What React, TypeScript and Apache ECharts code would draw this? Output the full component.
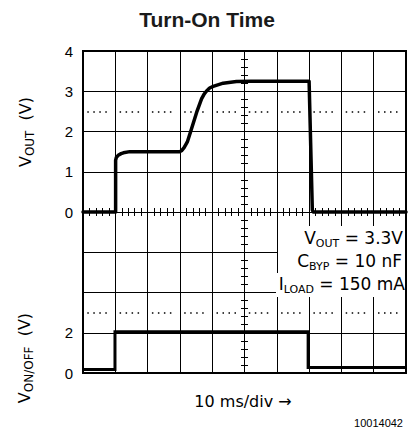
import React, { useEffect, useRef } from 'react';
import * as echarts from 'echarts';

// time axis: 10 ms/div, 10 divisions
const timeTicks = [0, 10, 20, 30, 40, 50, 60, 70, 80, 90, 100];
const voutTicks = [0, 1, 2, 3, 4];
const vonTicks = [0, 2];

// V_OUT trace (ms, V)
const voutTime = [0, 10.1, 10.1, 10.3, 10.9, 11.8, 12.5, 14.5, 20, 25, 30.0, 30.6, 31.3, 32.3, 33.6, 35.2, 36.7, 37.5, 38.2, 39.2, 40.3, 43.4, 47.5, 52, 60, 70.0, 71.0, 71.3, 80, 90, 100];
const voutValues = [0, 0, 1.28, 1.35, 1.41, 1.45, 1.47, 1.5, 1.5, 1.5, 1.5, 1.53, 1.6, 1.74, 2.07, 2.48, 2.81, 2.93, 3.0, 3.08, 3.12, 3.2, 3.24, 3.25, 3.25, 3.25, 0.05, 0, 0, 0, 0];

// V_ON/OFF trace (ms, V)
const vonTime = [0, 9.9, 9.9, 69.7, 69.7, 100];
const vonValues = [0.18, 0.18, 2.05, 2.05, 0.27, 0.27];

const voutRef = 2.5;
const vonRef = 3;

const FONT = 'Liberation Sans, Arial, sans-serif';
const NOTE_FONT = 'DejaVu Sans, sans-serif';

export default function App() {
  const ref = useRef<HTMLDivElement>(null);
  useEffect(() => {
    if (!ref.current) return;
    const chart = echarts.init(ref.current, null, { renderer: 'svg' });
    const L = 83, R = 406, T = 51, MID = 212, B = 373;
    const W = R - L;
    const black = '#000';
    const dotted = {
      color: black,
      width: 1.5,
      type: [1.5, 4.5, 1.5, 4.5, 1.5, 4.5, 1.5, 12.8],
      dashOffset: 27.8,
    };
    const xBase = (grid: number, pos: string) => ({
      gridIndex: grid,
      type: 'value',
      min: timeTicks[0],
      max: timeTicks[timeTicks.length - 1],
      interval: timeTicks[1] - timeTicks[0],
      position: pos,
      axisLine: { show: true, onZero: false, lineStyle: { color: black, width: 1 } },
      axisTick: { show: false },
      minorTick: { show: true, splitNumber: 5, length: 4, lineStyle: { color: black, width: 1 } },
      axisLabel: { show: false },
      splitLine: { show: true, lineStyle: { color: black, width: 1 } },
    });
    const yMain = (grid: number, ticks: number[], div: number, fmt: (v: number) => string) => ({
      gridIndex: grid,
      type: 'value',
      min: 0,
      max: ticks[0] + div * 4,
      interval: div,
      position: 'left',
      axisLine: { show: false, onZero: false },
      axisTick: { show: false },
      axisLabel: { color: black, fontSize: 15, fontFamily: FONT, margin: 10, formatter: fmt },
      splitLine: { show: true, lineStyle: { color: black, width: 1 } },
    });
    const yCenter = (grid: number, div: number, inside: boolean) => ({
      gridIndex: grid,
      type: 'value',
      min: 0,
      max: div * 4,
      interval: div,
      position: 'left',
      offset: -(W / 2),
      axisLine: { show: false, onZero: false },
      axisTick: { show: false, inside },
      minorTick: { show: true, splitNumber: 5, length: 3.5, lineStyle: { color: black, width: 1 } },
      axisLabel: { show: false },
      splitLine: { show: false },
    });
    const rich = {
      m: { fontSize: 17, fontFamily: NOTE_FONT, lineHeight: 22, color: black },
      s: { fontSize: 11, fontFamily: NOTE_FONT, lineHeight: 11, verticalAlign: 'bottom', color: black },
    };
    const axRich = {
      m: { fontSize: 16, fontFamily: NOTE_FONT, lineHeight: 22, color: black },
      s: { fontSize: 12, fontFamily: NOTE_FONT, lineHeight: 12, verticalAlign: 'bottom', color: black },
    };
    const option: any = {
      animation: false,
      backgroundColor: '#fff',
      grid: [
        { left: L, top: T, width: W, height: MID - T, show: false },
        { left: L, top: MID, width: W, height: B - MID, show: false },
      ],
      xAxis: [xBase(0, 'bottom'), xBase(1, 'top')],
      yAxis: [
        yMain(0, voutTicks, voutTicks[1] - voutTicks[0], (v: number) => String(v)),
        yCenter(0, 1, false),
        yCenter(0, 1, true),
        yMain(1, vonTicks, vonTicks[1] - vonTicks[0], (v: number) => (vonTicks.includes(v) ? String(v) : '')),
        yCenter(1, 2, false),
        yCenter(1, 2, true),
      ],
      series: [
        {
          type: 'line',
          xAxisIndex: 0,
          yAxisIndex: 0,
          data: voutTime.map((t, i) => [t, voutValues[i]]),
          showSymbol: false,
          clip: false,
          lineStyle: { color: black, width: 3.5, join: 'round', cap: 'round' },
          z: 5,
          markLine: {
            silent: true,
            symbol: 'none',
            label: { show: false },
            lineStyle: dotted,
            data: [{ yAxis: voutRef }],
          },
        },
        {
          type: 'line',
          xAxisIndex: 1,
          yAxisIndex: 3,
          data: vonTime.map((t, i) => [t, vonValues[i]]),
          showSymbol: false,
          clip: false,
          lineStyle: { color: black, width: 3, join: 'miter' },
          z: 5,
          markLine: {
            silent: true,
            symbol: 'none',
            label: { show: false },
            lineStyle: dotted,
            data: [{ yAxis: vonRef }],
          },
        },
      ],
      graphic: [
        {
          type: 'rect', z: 100,
          shape: { x: L, y: T, width: W, height: B - T },
          style: { fill: 'none', stroke: black, lineWidth: 2 },
        },
        { type: 'rect', z: 101, shape: { x: 288, y: 226, width: 117, height: 24 }, style: { fill: '#fff' } },
        { type: 'rect', z: 101, shape: { x: 278, y: 250, width: 127, height: 23 }, style: { fill: '#fff' } },
        { type: 'rect', z: 101, shape: { x: 276, y: 273, width: 129, height: 24 }, style: { fill: '#fff' } },
        {
          type: 'text', z: 102, x: 403, y: 238,
          style: { text: '{m|V}{s|OUT}{m| = 3.3V}', rich, align: 'right', verticalAlign: 'middle', fill: black },
        },
        {
          type: 'text', z: 102, x: 402, y: 261,
          style: { text: '{m|C}{s|BYP}{m| = 10 nF}', rich, align: 'right', verticalAlign: 'middle', fill: black },
        },
        {
          type: 'text', z: 102, x: 405, y: 284,
          style: { text: '{m|I}{s|LOAD}{m| = 150 mA}', rich, align: 'right', verticalAlign: 'middle', fill: black },
        },
        {
          type: 'text', z: 102, x: 207, y: 19,
          style: { text: 'Turn-On Time', fill: '#1a1a1a', font: 'bold 21px Liberation Sans, Arial, sans-serif', align: 'center', verticalAlign: 'middle' },
        },
        {
          type: 'text', z: 102, x: 25, y: 132, rotation: Math.PI / 2,
          style: { text: '{m|V}{s|OUT}{m|  (V)}', rich: axRich, align: 'center', verticalAlign: 'middle', fill: black },
        },
        {
          type: 'text', z: 102, x: 24, y: 358, rotation: Math.PI / 2,
          style: { text: '{m|V}{s|ON/OFF}{m|  (V)}', rich: axRich, align: 'center', verticalAlign: 'middle', fill: black },
        },
        {
          type: 'text', z: 102, x: 243, y: 401,
          style: { text: '10 ms/div \u2192', fill: black, font: '16px DejaVu Sans, sans-serif', align: 'center', verticalAlign: 'middle' },
        },
        {
          type: 'text', z: 102, x: 403, y: 423,
          style: { text: '10014042', fill: black, font: '11px Liberation Sans, Arial, sans-serif', align: 'right', verticalAlign: 'middle' },
        },
      ],
    };
    chart.setOption(option);
    return () => chart.dispose();
  }, []);
  return <div ref={ref} style={{ position: 'absolute', left: 0, top: 0, width: 408, height: 438 }} />;
}
